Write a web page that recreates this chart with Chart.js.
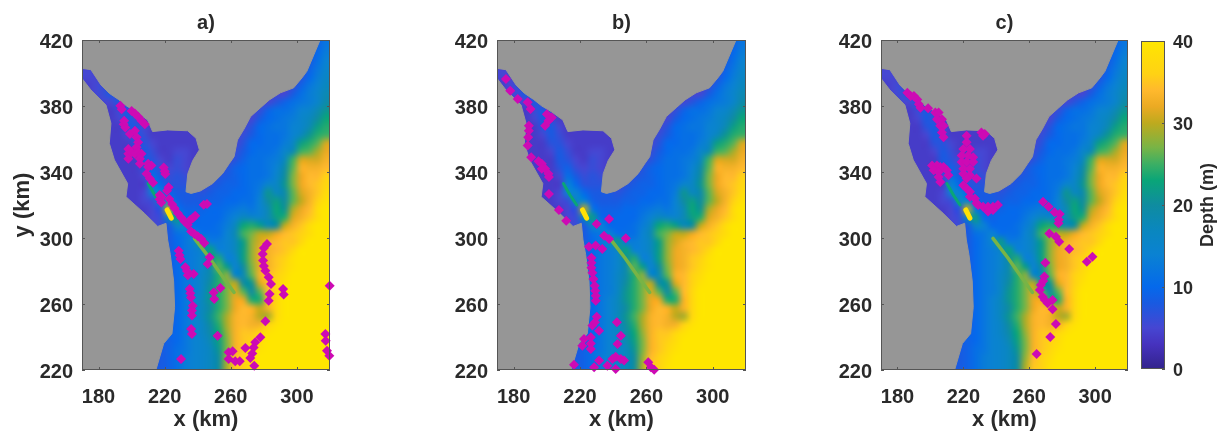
<!DOCTYPE html>
<html><head><meta charset="utf-8">
<style>html,body{margin:0;padding:0;background:#fff;overflow:hidden}
.p{position:absolute;top:0;height:433px}</style>
<script src="https://cdn.jsdelivr.net/npm/chart.js@4"></script></head>
<body>
<div class="p" style="left:0;width:340px"><canvas id="a"></canvas></div>
<div class="p" style="left:415px;width:341px"><canvas id="b"></canvas></div>
<div class="p" style="left:799px;width:340px"><canvas id="c"></canvas></div>
<div class="p" style="left:1130px;width:89px"><canvas id="cb"></canvas></div>
<script>
const xTicks=[180,220,260,300];
const yTicks=[220,260,300,340,380,420];
const barTicks=[0,10,20,30,40];
const gridX0=170, gridY0=420, gridStep=5;
const depthRows=[
[4,4,4,4,4,4,4,4,4,4,4,4,4,4,4,5,5,5,5,5,5,5,5,5,5,5,5,7,9,12],
[4,4,4,4,4,4,4,4,4,4,4,4,4,4,4,5,5,5,5,5,5,5,5,5,5,5,5,8,10,13],
[4,4,4,4,4,4,4,4,4,4,4,4,4,4,4,5,5,5,5,5,5,5,5,5,5,5,6,8,11,14],
[5,5,4,4,4,4,4,4,4,4,4,4,4,4,4,5,5,5,5,5,5,5,5,5,5,5,6,9,12,15],
[5,5,4,4,4,4,4,4,4,4,4,4,4,4,4,5,5,5,5,5,5,5,5,5,5,5,7,10,13,16],
[4,5,6,4,4,4,4,4,4,4,4,4,4,4,4,5,5,5,5,5,5,5,5,5,5,6,9,12,14,17],
[4,5,6,8,5,4,4,4,4,4,4,4,4,4,4,5,5,5,5,5,5,5,5,5,5,8,11,13,15,18],
[4,4,5,5,8,5,4,4,4,4,4,4,4,4,4,5,5,5,5,5,5,5,5,7,9,11,12,13,15,19],
[4,4,4,4,6,8,6,4,4,4,4,4,4,4,4,5,5,5,5,5,5,6,9,11,11,12,14,15,18,21],
[4,4,4,4,5,8,6,4,4,4,4,4,4,4,4,5,5,5,5,5,5,8,10,11,12,13,15,17,20,23],
[4,4,4,4,4,7,8,5,4,4,4,4,4,4,4,5,5,5,5,5,7,10,11,12,12,14,15,18,22,24],
[4,4,4,4,4,5,8,6,4,4,4,4,4,4,4,5,5,5,5,6,8,10,11,11,12,14,17,21,24,25],
[4,4,4,4,4,4,7,7,5,4,4,4,4,4,4,5,5,5,5,7,10,10,11,11,13,16,22,24,26,31],
[4,4,4,4,4,4,5,8,6,4,4,5,5,4,4,5,5,5,6,8,10,11,11,12,15,18,25,26,29,32],
[4,4,4,4,4,4,4,8,7,5,4,6,5,4,4,5,5,5,7,9,11,11,12,13,17,25,31,31,31,33],
[4,4,4,4,4,4,4,7,9,6,5,6,5,4,4,5,5,7,9,10,11,11,12,14,19,26,33,33,33,34],
[4,4,4,4,4,4,4,5,11,8,6,7,6,5,5,5,7,8,9,10,11,11,12,15,20,27,32,34,34,36],
[4,4,4,4,4,4,4,4,14,10,7,7,7,7,5,7,8,9,9,10,11,12,15,16,21,27,32,34,35,37],
[4,4,4,4,4,4,4,5,14,14,10,8,8,8,7,8,9,9,10,10,11,13,21,17,19,26,31,33,35,38],
[4,4,4,4,4,4,4,5,6,16,14,9,8,8,8,9,9,10,10,11,11,14,20,22,20,26,30,33,36,39],
[4,4,4,4,4,4,4,4,5,7,30,12,9,9,9,10,10,11,12,13,12,14,18,23,21,29,32,34,38,40],
[4,4,4,4,4,4,4,4,5,6,18,22,10,9,10,10,10,12,14,17,16,15,18,22,24,31,33,35,38,40],
[5,5,5,5,5,5,5,5,5,6,8,16,14,10,10,10,11,13,17,23,24,22,18,20,30,33,35,38,40,40],
[8,8,8,8,8,8,8,8,8,8,8,11,12,14,11,11,11,14,18,25,27,30,30,32,34,35,36,38,40,40],
[8,8,8,8,8,8,8,8,8,8,8,10,12,15,22,13,13,14,17,22,28,31,33,34,35,35,37,40,40,40],
[8,8,8,8,8,8,8,8,8,8,8,10,12,13,16,23,14,14,17,22,28,32,33,34,35,37,40,40,40,40],
[8,8,8,8,8,8,8,8,8,8,8,10,12,13,15,20,24,14,15,22,28,32,33,35,36,39,40,40,40,40],
[8,8,8,8,8,8,8,8,8,8,8,10,12,13,15,19,26,22,14,20,27,32,33,35,37,39,40,40,40,40],
[8,8,8,8,8,8,8,8,8,8,8,10,12,13,16,19,24,28,16,18,26,33,34,36,38,40,40,40,40,40],
[8,8,8,8,8,8,8,8,8,8,8,10,12,13,16,20,24,27,30,20,21,31,34,36,39,40,40,40,40,40],
[8,8,8,8,8,8,8,8,8,8,8,10,12,13,16,21,24,27,31,26,20,26,34,37,40,40,40,40,40,40],
[8,8,8,8,8,8,8,8,8,8,8,10,12,14,17,21,24,27,32,32,24,24,33,37,40,40,40,40,40,40],
[8,8,8,8,8,8,8,8,8,8,8,10,12,14,17,20,24,27,32,34,33,30,33,37,40,40,40,40,40,40],
[8,8,8,8,8,8,8,8,8,8,8,10,12,14,17,21,25,29,33,34,33,30,29,37,40,40,40,40,40,40],
[8,8,8,8,8,8,8,8,8,8,8,10,12,14,16,20,24,29,33,34,33,33,36,39,40,40,40,40,40,40],
[8,8,8,8,8,8,8,8,8,8,9,10,12,14,16,19,23,28,33,35,35,37,39,40,40,40,40,40,40,40],
[7,7,7,7,7,7,7,7,7,8,9,10,12,14,15,18,22,27,33,35,36,38,40,40,40,40,40,40,40,40],
[7,7,7,7,7,7,7,7,7,8,9,11,12,14,15,17,21,27,33,35,37,39,40,40,40,40,40,40,40,40],
[8,8,8,8,8,8,8,8,8,8,9,11,13,14,15,17,20,28,34,36,38,40,40,40,40,40,40,40,40,40],
[8,8,8,8,8,8,8,8,8,8,9,11,13,14,15,17,20,29,35,36,39,40,40,40,40,40,40,40,40,40]
];
const landNorth=[[170,420],[169,403],[175.4,402],[181.5,392.7],[186.5,387.7],[192,384],[197,380],[202.7,376.6],[209.7,371.5],[212.7,364.5],[221.8,365.5],[233.9,365],[239,360.4],[241,353.4],[237,347],[234,339],[232.9,328],[236,327],[241.6,328.5],[249,333],[255,339],[259,345],[262,349.3],[264,359.4],[268,366],[272,373.6],[278,379],[283.3,383.7],[290,388],[298,391],[303,397],[306,401],[314,420],[314,421],[170,421]];
const landWest=[[169,398],[175.4,389.7],[184.5,380.6],[187.5,369.5],[186.5,357.4],[189.6,347.3],[197.6,333],[196.6,325],[207.7,315],[215.8,307],[220.8,308.9],[221.8,298.8],[223.4,290],[225.4,274],[226,258],[224.4,242],[219.4,236],[214.4,219],[169,219]];
const ridgeSouth=[[238,299.8],[247,288],[255,276.6],[262,267]];
const ridgeNorth=[[210,333],[214,326],[218,320]];
const hotSpot=[[221.5,317],[224,312]];
const pointsA=[[193.2,380.2],[194,378],[195.2,369],[196.2,367],[195.5,371],[200,377],[202,375.5],[204,373.5],[206,371],[208,369],[199,363],[202,365],[203,361],[204,358],[203,355],[198,354],[198,351],[198,348],[200,352],[202,351],[204,352],[206,351],[205,348],[205,345],[210,345],[212,344],[210,343],[219.4,342.8],[220,340.5],[220.4,338.8],[209,339],[211,336],[213,333.5],[222.4,330.7],[221.4,328.7],[217,326],[217,323.5],[218,325],[218,321.5],[222.8,323.6],[224.5,320.5],[226,318],[228,315],[230,312.5],[232,310],[234,308],[235.5,311],[238.5,313.5],[237,312],[243.6,320.2],[245.6,320.6],[236,304],[238,302.5],[240,301],[242,299.5],[244,297],[247.2,288.3],[246,284.2],[228.5,292.3],[229,289.5],[229.5,287.3],[232.5,282.2],[233.5,280],[234,277.5],[237.5,278.2],[235.1,269.1],[235.5,266.5],[235.9,264],[237,259],[236.5,256],[236.5,253],[236,244.8],[236.5,241.8],[229.9,226.7],[252,240.8],[249.6,267],[250,263],[253.7,269.7],[281.9,296.4],[280,294],[279.3,290.3],[279.5,286.3],[280,283],[280.9,280.2],[282.9,276.2],[284.3,272.1],[283.5,266],[282.9,262],[291.6,269.1],[292,265.7],[280.9,249.5],[319.8,271.1],[317.2,241.8],[317.4,237.8],[318.2,231.7],[319.6,228.7],[277.9,239.8],[274.8,236.8],[273.8,233.7],[273,230],[271.8,227.3],[268.8,233.3],[274.2,222.6],[258.7,230.7],[261.1,231.3],[258.7,226.7],[262.7,225.3],[265.4,225.3]];
const pointsB=[[175.4,396.4],[178,389.3],[182.5,384.2],[188.5,382.2],[190.2,378.2],[189.2,368],[189.2,365],[188.8,361],[188.5,356],[190.6,348.9],[195,346.5],[197,345],[199,342],[197,342],[201,339],[201.3,337],[201.3,326.7],[207.3,317],[211.7,310.5],[200,375],[203,373],[199,368],[201,371],[230,308.5],[237.5,311.5],[234.5,301.4],[237.5,299.4],[247.6,299.8],[225.4,294.7],[229.4,295.4],[233.4,293.3],[226.9,288],[226.9,285],[226.9,282],[227.5,279],[228.1,275.2],[228.9,271],[229.2,268],[229.5,262],[229.5,265],[230.1,252.3],[227.5,246.9],[229,249],[231.5,243.8],[226.5,239.8],[226.5,236],[226.5,232.7],[222.4,238.8],[221.4,234.7],[216.4,223.2],[242.2,248.9],[244.6,240.8],[242.6,235.8],[228.5,221.6],[231.5,225.7],[236.5,222.6],[239.5,226.7],[241.5,228.1],[244.6,226.7],[246.6,225.7],[241.5,220.6],[261.1,224.7],[262.7,221.6],[264.7,220.2]];
const pointsC=[[186,388],[188,386],[190,386],[192,384],[193,381],[194,379],[198.6,378.6],[203,376],[205,376],[204,372],[207,372],[206,368],[208,368],[207,364],[208,361],[231,364],[233,363],[232,362],[222,362],[222,358],[220,354],[224,354],[219,350],[223,350],[226,349],[219,346],[222,346],[226,346],[220,342],[224,342],[220,339],[224,338],[222,336],[228,336],[220,332],[222,330],[224,328],[224,325],[227,324],[228,321],[229,320],[232,319],[235,319],[238,319],[235,316],[238,317],[241,320],[201,344],[204,344],[206,343],[202,341],[205,340],[208,343],[210,341],[211,338],[205,337],[206,334],[268.4,322],[271.8,319],[275.4,315.6],[278.5,314.6],[278,311],[277.8,309],[272.2,302.8],[276.2,300.8],[278.2,297.8],[284.3,293.3],[295,285.6],[298.4,288.7],[269.8,285],[269.2,276.6],[267.1,271.5],[266.5,268.5],[268.2,264.4],[271.2,260.4],[274.2,262.4],[274.2,256.8],[276.2,247.9],[272.8,240],[264.5,229.7],[268.5,274],[269.5,262.5]];
const mapStops=[[0,[50,35,140]],[3,[70,50,190]],[5,[70,70,210]],[8,[25,90,225]],[10,[5,105,235]],[14,[10,130,210]],[17,[10,135,190]],[20,[15,140,160]],[23,[10,165,120]],[25,[60,175,100]],[27,[120,180,70]],[30,[190,170,30]],[32,[235,170,35]],[34,[255,185,45]],[36,[255,210,20]],[40,[255,230,0]]];
const landColor='rgb(150,150,150)', markColor='rgb(205,10,180)', ink='#2a2a2a';

function depthRGB(v){
  for(let i=1;i<mapStops.length;i++){
    if(v<=mapStops[i][0]){
      const [a,ca]=mapStops[i-1],[b,cb]=mapStops[i],t=(v-a)/(b-a);
      return ca.map((c,k)=>Math.round(c+(cb[k]-c)*t));
    }
  }
  return mapStops[mapStops.length-1][1];
}
function css(v){return 'rgb('+depthRGB(v).join(',')+')';}
const xy=a=>a.map(p=>({x:p[0],y:p[1]}));

const cellImage=document.createElement('canvas');
cellImage.width=depthRows[0].length;cellImage.height=depthRows.length;
{const g=cellImage.getContext('2d');
 depthRows.forEach((r,j)=>r.forEach((v,i)=>{g.fillStyle=css(v);g.fillRect(i,j,1,1);}));}

const depthLayer={id:'depthLayer',
 afterLayout(ch){ if(ch.titleBlock){ch.titleBlock.left=ch.chartArea.left;ch.titleBlock.right=ch.chartArea.right;} },
 beforeDraw(ch){
  ch.scales.y.getLabelItems(ch.chartArea).forEach(it=>{it.textOffset+=2;});
 },
 beforeDatasetsDraw(ch){
  const {x,y}=ch.scales,c=ch.ctx,a=ch.chartArea;
  const l=x.getPixelForValue(gridX0),r=x.getPixelForValue(gridX0+gridStep*depthRows[0].length);
  const t=y.getPixelForValue(gridY0),b=y.getPixelForValue(gridY0-gridStep*depthRows.length);
  c.save();c.beginPath();c.rect(a.left,a.top,a.width,a.height);c.clip();
  c.imageSmoothingEnabled=true;c.imageSmoothingQuality='high';
  c.drawImage(cellImage,l,t,r-l,b-t);c.restore();
}};
const frame={id:'frame',afterDraw(ch){
  const {x,y}=ch.scales,c=ch.ctx,a=ch.chartArea;
  c.save();c.strokeStyle='#555';c.lineWidth=1;
  c.strokeRect(a.left+.5,a.top+.5,a.width-1,a.height-1);
  c.beginPath();
  x.ticks.forEach(t=>{const p=Math.round(x.getPixelForValue(t.value))+.5;c.moveTo(p,a.top);c.lineTo(p,a.top+3);c.moveTo(p,a.bottom);c.lineTo(p,a.bottom-3);});
  y.ticks.forEach(t=>{const p=Math.round(y.getPixelForValue(t.value))+.5;c.moveTo(a.left,p);c.lineTo(a.left+3,p);c.moveTo(a.right,p);c.lineTo(a.right-3,p);});
  c.stroke();c.restore();
}};
function panel(id,title,pts,showY,pad){
  const mk=(data,o)=>Object.assign({type:'scatter',data:xy(data),showLine:true,pointRadius:0,tension:0,borderCapStyle:'round'},o);
  new Chart(document.getElementById(id),{
    type:'scatter',
    data:{datasets:[
      {type:'scatter',data:xy(pts),pointStyle:'rectRot',pointRadius:5,backgroundColor:markColor,borderWidth:0,showLine:false,clip:false,order:0},
      mk(landNorth,{fill:'shape',backgroundColor:landColor,borderColor:landColor,borderWidth:1,order:1}),
      mk(landWest,{fill:'shape',backgroundColor:landColor,borderColor:landColor,borderWidth:1,order:1}),
      mk(hotSpot,{borderColor:css(39),borderWidth:5,order:2}),
      mk(ridgeSouth,{borderColor:css(27),borderWidth:3.5,order:3}),
      mk(ridgeNorth,{borderColor:css(23),borderWidth:3,order:3})
    ]},
    options:{
      responsive:false,animation:false,events:[],
      layout:{padding:{left:0,right:pad,top:0,bottom:0},autoPadding:false},
      plugins:{legend:{display:false},tooltip:{enabled:false},
        title:{display:true,text:title,color:ink,font:{family:'Liberation Sans',size:20,weight:'bold',lineHeight:1.2},padding:{top:11,bottom:5}}},
      scales:{
        x:{type:'linear',min:170,max:320,grid:{display:false},border:{display:false},
          afterBuildTicks(s){s.ticks=xTicks.map(v=>({value:v}));},
          afterFit(s){s.height=63;},
          ticks:{color:ink,autoSkip:false,maxRotation:0,padding:7,font:{family:'Liberation Sans',size:20,weight:'bold'}},
          title:{display:true,text:'x (km)',color:ink,padding:{top:8,bottom:0},font:{family:'Liberation Sans',size:22,weight:'bold'}}},
        y:{type:'linear',min:220,max:420,grid:{display:false},border:{display:false},
          afterBuildTicks(s){s.ticks=yTicks.map(v=>({value:v}));},
          afterFit(s){s.width=82;},
          ticks:{color:ink,autoSkip:false,padding:1,font:{family:'Liberation Sans',size:20,weight:'bold'}},
          title:{display:showY,text:'y (km)',color:ink,padding:{top:10,bottom:0},font:{family:'Liberation Sans',size:22,weight:'bold'}}}
      }
    },
    plugins:[depthLayer,frame]
  });
}
function size(id,w){const c=document.getElementById(id);c.width=w;c.height=433;c.style.width=w+'px';c.style.height='433px';}
size('a',340);size('b',341);size('c',340);size('cb',89);
panel('a','a)',pointsA,true,10);
panel('b','b)',pointsB,false,10);
panel('c','c)',pointsC,false,11);

new Chart(document.getElementById('cb'),{
  type:'bar',
  data:{labels:['Depth'],datasets:[{data:[[barTicks[0],barTicks[barTicks.length-1]]],barPercentage:1,categoryPercentage:1,borderWidth:0,borderSkipped:false,
    backgroundColor(ctx){
      const a=ctx.chart.chartArea;if(!a)return '#000';
      const s=ctx.chart.scales.y;
      const g=ctx.chart.ctx.createLinearGradient(0,s.getPixelForValue(0),0,s.getPixelForValue(40));
      mapStops.forEach(m=>g.addColorStop(m[0]/40,'rgb('+m[1].join(',')+')'));
      return g;
    }}]},
  options:{responsive:false,animation:false,events:[],
    layout:{padding:{left:11,right:0,top:41,bottom:64},autoPadding:false},
    plugins:{legend:{display:false},tooltip:{enabled:false}},
    scales:{
      x:{display:false},
      y:{position:'right',min:0,max:40,grid:{display:false},border:{display:false},
        afterBuildTicks(s){s.ticks=barTicks.map(v=>({value:v}));},
        afterFit(s){s.width=54;},
        ticks:{color:ink,padding:0,font:{family:'Liberation Sans',size:18,weight:'bold'}}}
    }},
  plugins:[{id:'cbFrame',
   beforeDraw(ch){ch.scales.y.getLabelItems(ch.chartArea).forEach(it=>{it.textOffset+=2;});},
   afterDraw(ch){
    const c=ch.ctx,a=ch.chartArea,s=ch.scales.y;
    c.save();c.strokeStyle='#555';c.lineWidth=1;c.strokeRect(a.left+.5,a.top+.5,a.width-1,a.height-1);
    c.beginPath();s.ticks.forEach(t=>{const p=Math.round(s.getPixelForValue(t.value))+.5;c.moveTo(a.right,p);c.lineTo(a.right-3,p);});c.stroke();
    c.translate(78,(a.top+a.bottom)/2);c.rotate(-Math.PI/2);
    c.fillStyle=ink;c.textAlign='center';c.textBaseline='middle';c.font='bold 18px "Liberation Sans"';
    c.fillText('Depth (m)',0,0);c.restore();
  }}]
});
</script></body></html>
